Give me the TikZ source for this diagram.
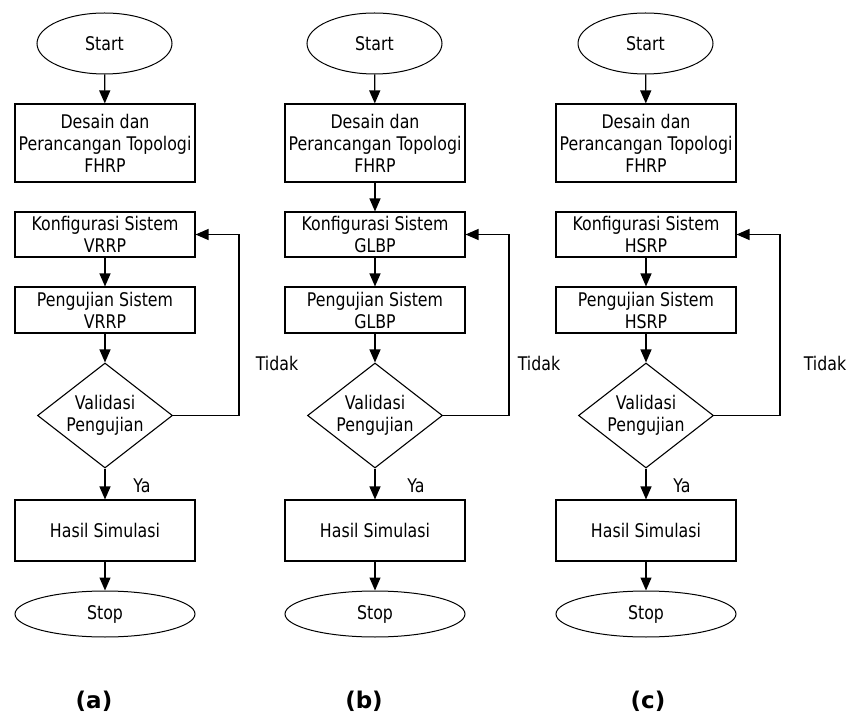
\documentclass[tikz,border=0pt]{standalone}
\usepackage{fontspec}
\setmainfont{DejaVu Sans}[FakeStretch=0.84]
\newfontfamily\labfont{DejaVu Sans}
\usetikzlibrary{shapes.geometric,arrows.meta}
\begin{document}
\begin{tikzpicture}[x=1pt,y=-1pt,
  every node/.style={font=\fontsize{18.8}{22}\selectfont, text=black},
  term/.style={ellipse, draw, line width=1pt, inner sep=0pt},
  proc/.style={rectangle, draw, line width=1.1pt, minimum width=180pt, inner sep=0pt, align=center},
  dec/.style={diamond, draw, line width=1.1pt, minimum width=135pt, minimum height=105pt, aspect=1.29, inner sep=0pt, align=center},
  arr/.style={-{Triangle[length=13pt,width=11pt]}, line width=1.2pt},
  lbl/.style={inner sep=0pt},
  sublbl/.style={inner sep=0pt, font=\labfont\bfseries\fontsize{23}{26}\selectfont}
]
\useasboundingbox (0,0) rectangle (847,714);

% ---------------- column (a)
\node[term, minimum width=135pt, minimum height=61pt] (sa) at (104.5,43.5) {Start};
\node[proc, minimum height=78pt] (da) at (105,143) {Desain dan\\Perancangan Topologi\\FHRP};
\node[proc, minimum height=45pt] (ka) at (105,234.5) {Konfigurasi Sistem\\VRRP};
\node[proc, minimum height=46pt] (pa) at (105,310) {Pengujian Sistem\\VRRP};
\node[dec] (va) at (105,415.5) {Validasi\\Pengujian};
\node[proc, minimum height=61pt] (ha) at (105,530.5) {Hasil Simulasi};
\node[term, minimum width=180pt, minimum height=46pt] (ta) at (105,614) {Stop};
\coordinate (la) at (239,415.5);
\node[lbl] (tda) at (277,363) {Tidak};
\node[lbl] (yaa) at (142,486) {Ya};
\node[sublbl] (capa) at (94,701) {(a)};
\draw[arr] (sa) -- (da);
\draw[arr] (ka) -- (pa);
\draw[arr] (pa) -- (va);
\draw[arr] (va) -- (ha);
\draw[arr] (ha) -- (ta);
\draw[arr] (va.east) -- (la) |- (ka.east);

% ---------------- column (b)
\node[term, minimum width=135pt, minimum height=61pt] (sb) at (374.5,43.5) {Start};
\node[proc, minimum height=78pt] (db) at (375,143) {Desain dan\\Perancangan Topologi\\FHRP};
\node[proc, minimum height=45pt] (kb) at (375,234.5) {Konfigurasi Sistem\\GLBP};
\node[proc, minimum height=46pt] (pb) at (375,310) {Pengujian Sistem\\GLBP};
\node[dec] (vb) at (375,415.5) {Validasi\\Pengujian};
\node[proc, minimum height=61pt] (hb) at (375,530.5) {Hasil Simulasi};
\node[term, minimum width=180pt, minimum height=46pt] (tb) at (375,614) {Stop};
\coordinate (lb) at (509,415.5);
\node[lbl] (tdb) at (539,363) {Tidak};
\node[lbl] (yab) at (416,486) {Ya};
\node[sublbl] (capb) at (364,701) {(b)};
\draw[arr] (sb) -- (db);
\draw[arr] (db) -- (kb);
\draw[arr] (kb) -- (pb);
\draw[arr] (pb) -- (vb);
\draw[arr] (vb) -- (hb);
\draw[arr] (hb) -- (tb);
\draw[arr] (vb.east) -- (lb) |- (kb.east);

% ---------------- column (c)
\node[term, minimum width=135pt, minimum height=61pt] (sc) at (645.5,43.5) {Start};
\node[proc, minimum height=78pt] (dc) at (646,143) {Desain dan\\Perancangan Topologi\\FHRP};
\node[proc, minimum height=45pt] (kc) at (646,234.5) {Konfigurasi Sistem\\HSRP};
\node[proc, minimum height=46pt] (pc) at (646,310) {Pengujian Sistem\\HSRP};
\node[dec] (vc) at (646,415.5) {Validasi\\Pengujian};
\node[proc, minimum height=61pt] (hc) at (646,530.5) {Hasil Simulasi};
\node[term, minimum width=180pt, minimum height=46pt] (tc) at (646,614) {Stop};
\coordinate (lc) at (780,415.5);
\node[lbl] (tdc) at (825,363) {Tidak};
\node[lbl] (yac) at (682,486) {Ya};
\node[sublbl] (capc) at (648,701) {(c)};
\draw[arr] (sc) -- (dc);
\draw[arr] (kc) -- (pc);
\draw[arr] (pc) -- (vc);
\draw[arr] (vc) -- (hc);
\draw[arr] (hc) -- (tc);
\draw[arr] (vc.east) -- (lc) |- (kc.east);
\end{tikzpicture}
\end{document}
